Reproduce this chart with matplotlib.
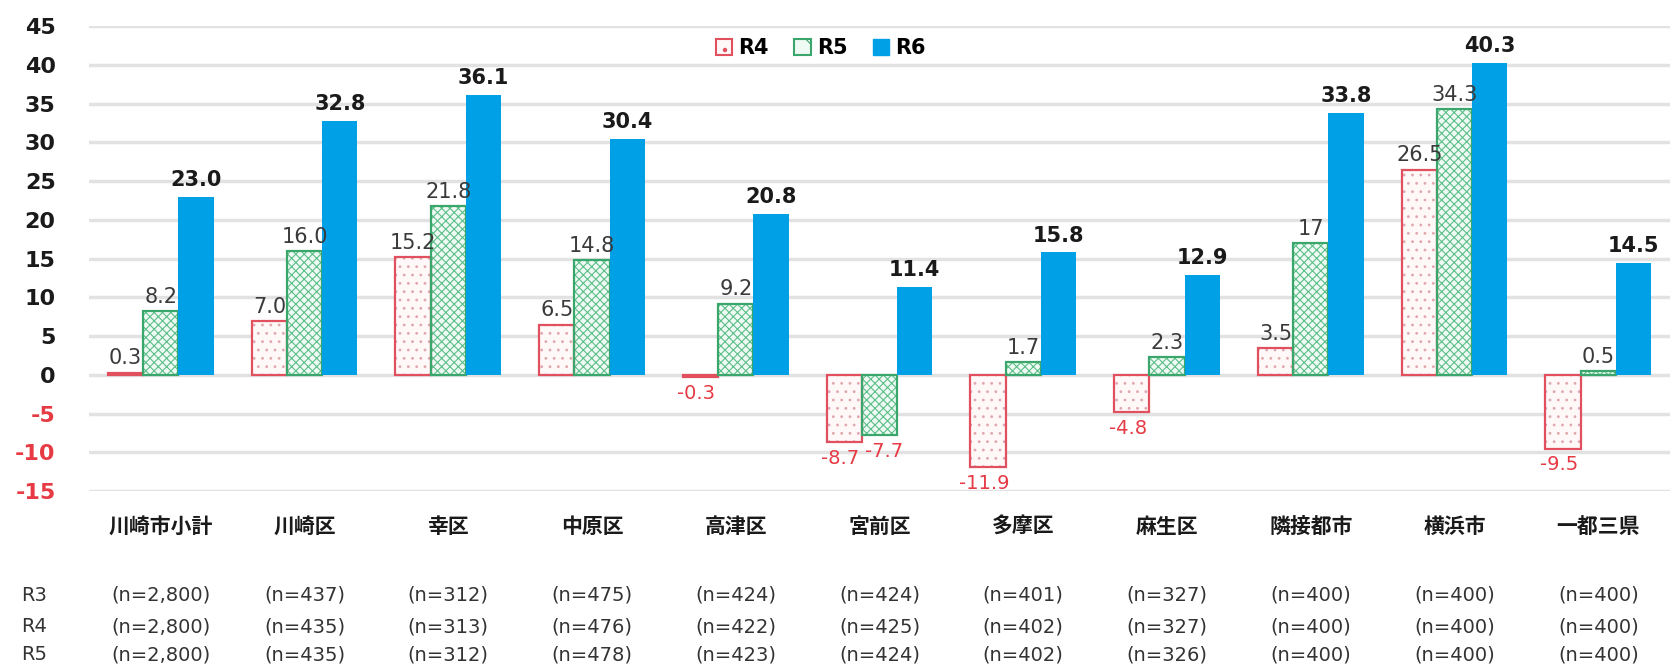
import numpy as np
import matplotlib.pyplot as plt
from matplotlib.patches import Patch

plt.rcParams['font.family'] = ['DejaVu Sans', 'Noto Sans CJK JP']
plt.rcParams['hatch.linewidth'] = 0.8

categories = ['川崎市小計', '川崎区', '幸区', '中原区', '高津区', '宮前区',
              '多摩区', '麻生区', '隣接都市', '横浜市', '一都三県']
r4 = [0.3, 7.0, 15.2, 6.5, -0.3, -8.7, -11.9, -4.8, 3.5, 26.5, -9.5]
r5 = [8.2, 16.0, 21.8, 14.8, 9.2, -7.7, 1.7, 2.3, 17, 34.3, 0.5]
r6 = [23.0, 32.8, 36.1, 30.4, 20.8, 11.4, 15.8, 12.9, 33.8, 40.3, 14.5]
r5_text = ['8.2', '16.0', '21.8', '14.8', '9.2', '-7.7', '1.7', '2.3', '17', '34.3', '0.5']

n_r3 = ['2,800', '437', '312', '475', '424', '424', '401', '327', '400', '400', '400']
n_r4 = ['2,800', '435', '313', '476', '422', '425', '402', '327', '400', '400', '400']
n_r5 = ['2,800', '435', '312', '478', '423', '424', '402', '326', '400', '400', '400']

yticks = list(range(-15, 50, 5))

red = '#e0505e'
green = '#3aa66c'
blue = '#00a0e6'
neg_red = '#e63a44'

fig = plt.figure(figsize=(16.75, 6.71), dpi=100)
ax = fig.add_axes([0.0531, 0.268, 0.944, 0.693])

x = np.arange(len(categories))
w = 0.245

# hatch layers then outlines
ax.bar(x - w, r4, w, color='#fff8f8', edgecolor='#e0a8ae', hatch='..', linewidth=0, zorder=2)
ax.bar(x - w, r4, w, fill=False, edgecolor=red, linewidth=1.6, zorder=3)
ax.bar(x, r5, w, color='#eefaf3', edgecolor='#5cbf88', hatch='xxxx', linewidth=0, zorder=2)
ax.bar(x, r5, w, fill=False, edgecolor=green, linewidth=1.6, zorder=3)
ax.bar(x + w, r6, w, color=blue, linewidth=0, zorder=3)

for i in range(len(categories)):
    pairs = [(x[i] - w, r4[i], '%.1f' % r4[i], -3), (x[i], r5[i], r5_text[i], 3)]
    for xi, v, txt, dx in pairs:
        if v >= 0:
            ax.annotate(txt, (xi, v), xytext=(0, 3), textcoords='offset points',
                        ha='center', va='bottom', fontsize=15, color='#3a3a3a', zorder=5)
        else:
            ax.annotate(txt, (xi, v), xytext=(dx, -5), textcoords='offset points',
                        ha='center', va='top', fontsize=14, color=neg_red, zorder=5)
    ax.annotate('%.1f' % r6[i], (x[i] + w, r6[i]), xytext=(0, 5), textcoords='offset points',
                ha='center', va='bottom', fontsize=15, fontweight='bold', color='#1a1a1a', zorder=5)

ax.set_ylim(-15, 45)
ax.set_xlim(-0.5, len(categories) - 0.5)
ax.set_yticks(yticks)
ax.set_yticklabels([str(t) for t in yticks], fontsize=16, fontweight='bold')
for lab, t in zip(ax.get_yticklabels(), yticks):
    lab.set_color(neg_red if t < 0 else '#1a1a1a')
ax.tick_params(axis='y', length=0, pad=24)
ax.set_xticks([])
ax.grid(axis='y', color='#e2e2e2', linewidth=2.5, zorder=0)
ax.set_axisbelow(True)
for s in ax.spines.values():
    s.set_visible(False)

# category and sample size rows under the plot
for i, c in enumerate(categories):
    xf = fig.transFigure.inverted().transform(ax.transData.transform((x[i], 0)))[0]
    fig.text(xf, 0.215, c, ha='center', va='center',
             fontsize=15, fontweight='bold', color='#1a1a1a')
rows = [('R3', n_r3, 0.113), ('R4', n_r4, 0.066), ('R5', n_r5, 0.024)]
for name, vals, fy in rows:
    fig.text(21 / 1675, fy, name, ha='left', va='center', fontsize=14, color='#333333')
    for i, n in enumerate(vals):
        xf = fig.transFigure.inverted().transform(ax.transData.transform((x[i], 0)))[0]
        fig.text(xf, fy, '(n=%s)' % n, ha='center', va='center', fontsize=14, color='#333333')

handles = [Patch(facecolor='#fff8f8', edgecolor=red, linewidth=1.5, hatch='.'),
           Patch(facecolor='#eefaf3', edgecolor=green, linewidth=1.5, hatch='x'),
           Patch(facecolor=blue, edgecolor=blue)]
leg = fig.legend(handles, ['R4', 'R5', 'R6'], loc='center', bbox_to_anchor=(0.49, 0.928),
                 ncol=3, frameon=False, fontsize=15, handlelength=0.8, handleheight=0.8,
                 handletextpad=0.3, columnspacing=1.2)
for t in leg.get_texts():
    t.set_fontweight('bold')

fig.savefig('out.png', dpi=100)
